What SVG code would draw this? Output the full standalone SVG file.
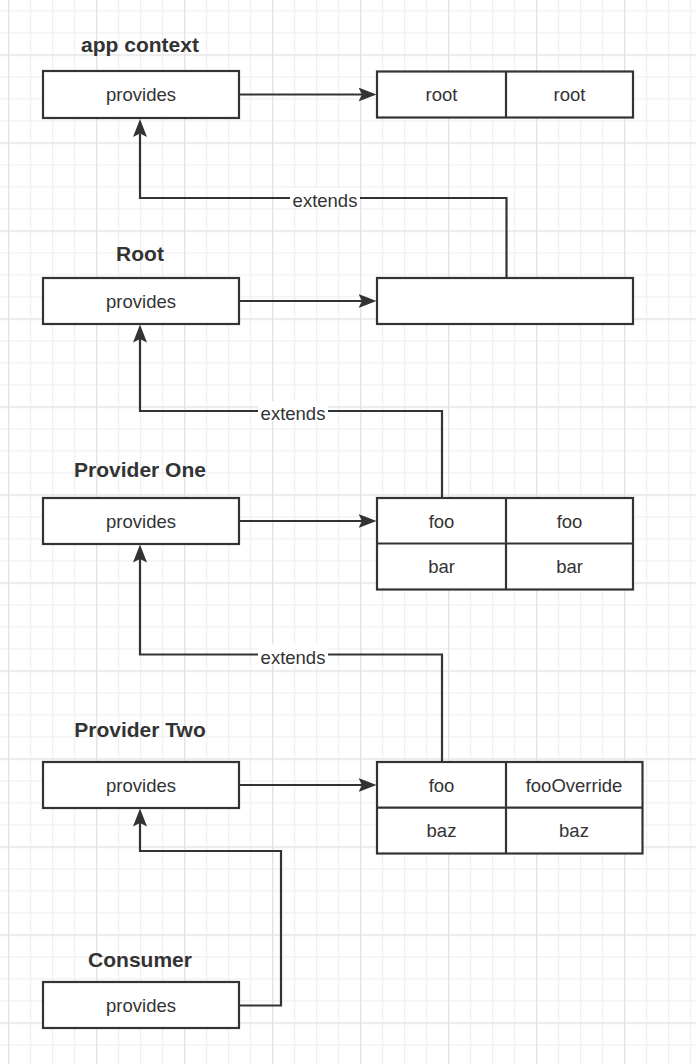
<svg xmlns="http://www.w3.org/2000/svg" width="696" height="1064" viewBox="0 0 696 1064">
<style>
.box{fill:#fff;stroke:#333;stroke-width:2.2}
.ln{fill:none;stroke:#333;stroke-width:2.2}
.t{font-family:"Liberation Sans",Arial,Helvetica,sans-serif;font-size:18.5px;fill:#333;text-anchor:middle}
.h{font-family:"Liberation Sans",Arial,Helvetica,sans-serif;font-size:21px;font-weight:bold;fill:#333;text-anchor:middle}
</style>
<defs>
<pattern id="grid" patternUnits="userSpaceOnUse" x="8" y="54.3" width="88" height="88">
<rect x="22" y="0" width="1.3" height="88" fill="#f0f0f0"/>
<rect x="44" y="0" width="1.3" height="88" fill="#f0f0f0"/>
<rect x="66" y="0" width="1.3" height="88" fill="#f0f0f0"/>
<rect x="0" y="22" width="88" height="1.3" fill="#f0f0f0"/>
<rect x="0" y="44" width="88" height="1.3" fill="#f0f0f0"/>
<rect x="0" y="66" width="88" height="1.3" fill="#f0f0f0"/>
<rect x="0" y="0" width="1.5" height="88" fill="#e4e4e4"/>
<rect x="0" y="0" width="88" height="1.5" fill="#e4e4e4"/>
</pattern>
<marker id="arr" markerUnits="userSpaceOnUse" markerWidth="19" markerHeight="15" viewBox="0 0 19 15" refX="3.5" refY="7.5" orient="auto">
<path d="M0,0.5 L18,7.5 L0,14.5 L3.5,7.5 Z" fill="#333"/>
</marker>
</defs>
<rect width="696" height="1064" fill="#fff"/>
<rect width="696" height="1064" fill="url(#grid)"/>

<g id="connectors">
<path class="ln" d="M239,94.5 H362" marker-end="url(#arr)"/>
<path class="ln" d="M239,301 H362" marker-end="url(#arr)"/>
<path class="ln" d="M239,521 H362" marker-end="url(#arr)"/>
<path class="ln" d="M239,785 H362" marker-end="url(#arr)"/>
<path class="ln" d="M506.5,278 V198 H140 V133.5" marker-end="url(#arr)"/>
<rect x="290" y="188" width="70" height="20" fill="#fff"/>
<text class="t" x="325" y="206.5">extends</text>
<path class="ln" d="M442,498 V411 H140 V339" marker-end="url(#arr)"/>
<rect x="258" y="401" width="70" height="20" fill="#fff"/>
<text class="t" x="293" y="420">extends</text>
<path class="ln" d="M442,762 V654.5 H140 V559" marker-end="url(#arr)"/>
<rect x="258" y="644.5" width="70" height="20" fill="#fff"/>
<text class="t" x="293" y="663.5">extends</text>
<path class="ln" d="M239,1005.5 H281 V851 H140 V823" marker-end="url(#arr)"/>
</g>

<g id="appcontext">
<text class="h" x="140" y="52">app context</text>
<rect class="box" x="43" y="71" width="196" height="47"/>
<text class="t" x="141" y="101">provides</text>
</g>
<g id="appcontext-table">
<rect class="box" x="377" y="71.5" width="256" height="46"/>
<line class="ln" x1="506" y1="71.5" x2="506" y2="117.5"/>
<text class="t" x="441.5" y="101">root</text>
<text class="t" x="569.5" y="101">root</text>
</g>

<g id="root">
<text class="h" x="140" y="261">Root</text>
<rect class="box" x="43" y="278" width="196" height="46"/>
<text class="t" x="141" y="307.5">provides</text>
</g>
<g id="root-table">
<rect class="box" x="377" y="278" width="256" height="46"/>
</g>

<g id="providerone">
<text class="h" x="140" y="477">Provider One</text>
<rect class="box" x="43" y="498" width="196" height="46"/>
<text class="t" x="141" y="527.5">provides</text>
</g>
<g id="providerone-table">
<rect class="box" x="377" y="498" width="256" height="91.5"/>
<line class="ln" x1="377" y1="543.5" x2="633" y2="543.5"/>
<line class="ln" x1="506" y1="498" x2="506" y2="589.5"/>
<text class="t" x="441.5" y="527.5">foo</text>
<text class="t" x="569.5" y="527.5">foo</text>
<text class="t" x="441.5" y="573">bar</text>
<text class="t" x="569.5" y="573">bar</text>
</g>

<g id="providertwo">
<text class="h" x="140" y="737">Provider Two</text>
<rect class="box" x="43" y="762" width="196" height="46"/>
<text class="t" x="141" y="791.5">provides</text>
</g>
<g id="providertwo-table">
<rect class="box" x="377" y="762" width="265.5" height="91.5"/>
<line class="ln" x1="377" y1="807.7" x2="642.5" y2="807.7"/>
<line class="ln" x1="506" y1="762" x2="506" y2="853.5"/>
<text class="t" x="441.5" y="791.5">foo</text>
<text class="t" x="574" y="791.5">fooOverride</text>
<text class="t" x="441.5" y="837">baz</text>
<text class="t" x="574" y="837">baz</text>
</g>

<g id="consumer">
<text class="h" x="140" y="967">Consumer</text>
<rect class="box" x="43" y="982" width="196" height="46"/>
<text class="t" x="141" y="1011.5">provides</text>
</g>
</svg>
